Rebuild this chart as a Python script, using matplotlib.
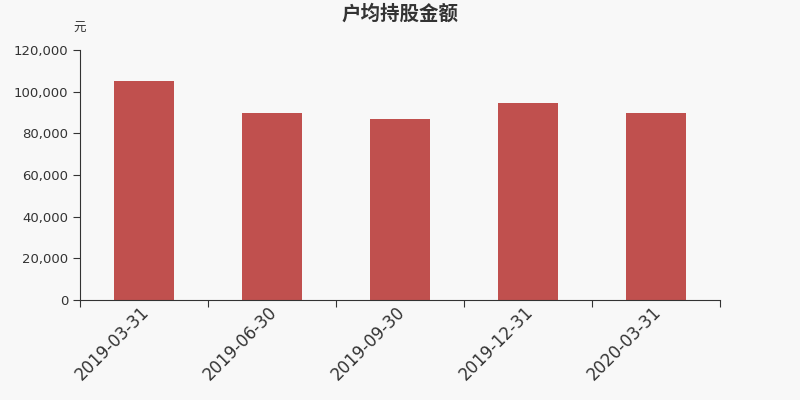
import matplotlib.pyplot as plt
import matplotlib.transforms as mtransforms
import numpy as np

plt.rcParams['font.family'] = ['DejaVu Sans', 'Noto Sans CJK SC']

dates = ["2019-03-31", "2019-06-30", "2019-09-30", "2019-12-31", "2020-03-31"]
values = [105100, 89600, 86900, 94600, 89600]

bg = "#f8f8f8"
fig = plt.figure(figsize=(8, 4), dpi=100, facecolor=bg)
ax = fig.add_axes([0.1, 0.25, 0.8, 0.625], facecolor=bg)

x = np.arange(len(dates))
ax.bar(x, values, width=0.47, color="#c0504e", zorder=2)

ax.set_xlim(-0.5, len(dates) - 0.5)
ax.set_ylim(0, 120000)
ax.set_yticks(np.arange(0, 120001, 20000))
ax.set_yticklabels([f"{v:,}" for v in range(0, 120001, 20000)], fontsize=9.5, color="#333333")

ax.set_xticks(np.arange(-0.5, len(dates), 1.0))
ax.set_xticklabels([])
ax.set_xticks(x, minor=True)
labels = ax.set_xticklabels(dates, minor=True, rotation=45, ha="right", rotation_mode="anchor",
                            fontsize=12, color="#333333")
ax.tick_params(axis="x", which="minor", length=0, pad=2)
ax.tick_params(axis="x", which="major", length=5, color="#333333")
ax.tick_params(axis="y", length=5, color="#333333")

offset = mtransforms.ScaledTranslation(-4 / 100, 0, fig.dpi_scale_trans)
for lab in labels:
    lab.set_transform(lab.get_transform() + offset)

for s in ["top", "right"]:
    ax.spines[s].set_visible(False)
for s in ["left", "bottom"]:
    ax.spines[s].set_color("#333333")

fig.text(0.5, 0.965, "户均持股金额", ha="center", va="center", fontsize=14,
         fontweight="bold", color="#333333", family="Noto Sans CJK SC")
fig.text(0.1, 0.93, "元", ha="center", va="center", fontsize=9, color="#333333",
         family="Noto Sans CJK SC")

fig.savefig("out.png", dpi=100, facecolor=bg)
